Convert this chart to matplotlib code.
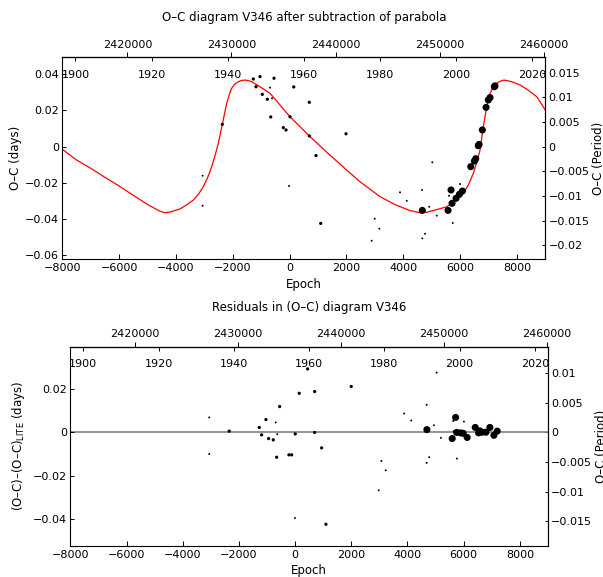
import matplotlib
matplotlib.use("Agg")
import matplotlib.pyplot as plt
from matplotlib.ticker import FuncFormatter
import numpy as np

# ephemeris linking epoch to JD
JD0 = 2435576.0
PERIOD = 2.7272

lite_epoch = [-8000, -7500, -7000, -6500, -6000, -5500, -5000, -4600, -4400, -4200,
              -3856, -3600, -3389, -3200, -3037, -2880, -2741, -2620, -2509, -2368,
              -2213, -2100, -2037, -1920, -1805, -1680, -1569, -1450, -1333, -1041,
              -689, -337, 15, 694, 1419, 2011, 2475, 3183, 3700, 4200,
              4591, 4800, 5100, 5531, 5850, 6115, 6300, 6467, 6600, 6703,
              6819, 6939, 7030, 7115, 7200, 7291, 7420, 7548, 7800, 8111,
              8400, 8699, 9000]
lite_oc = [-0.0015, -0.0074, -0.0120, -0.0170, -0.0218, -0.0270, -0.0320, -0.0355, -0.0366, -0.0362,
           -0.0345, -0.0320, -0.0296, -0.0262, -0.0222, -0.0170, -0.0111, -0.0048, 0.0018, 0.0123,
           0.0240, 0.0298, 0.0323, 0.0347, 0.0359, 0.0366, 0.0368, 0.0365, 0.0359, 0.0331,
           0.0295, 0.0230, 0.0165, 0.0059, -0.0047, -0.0130, -0.0194, -0.0277, -0.0320, -0.0352,
           -0.0366, -0.0364, -0.0352, -0.0333, -0.0300, -0.0259, -0.0210, -0.0148, -0.0080, -0.0019,
           0.0110, 0.0221, 0.0285, 0.0313, 0.0337, 0.0350, 0.0362, 0.0368, 0.0360, 0.0341,
           0.0312, 0.0276, 0.0202]

# O-C after parabola subtraction; weight 1 = tiny dot, 2 = dot, 3 = large dot
oc_epoch = [-3061, -3061, -2368, -1277, -1041, -1182, -960, -784, -689, -548,
            -618, -664, -221, -126, 15, -20, 146, 694, 694, 930,
            1096, 1986, 420, 2888, 2997, 3159, 3887, 4123, 4661, 4672,
            4919, 5024, 5179, 4767, 4672, 5577, 5683, 5612, 6000, 5742,
            5718, 5859, 5976, 6082, 6376, 6503, 6552, 6643, 6670, 6784,
            6915, 6995, 7055, 7206, 7230]
oc_days = [-0.0161, -0.0327, 0.0123, 0.0374, 0.0387, 0.0331, 0.0289, 0.0262, 0.0326, 0.0378,
           0.0267, 0.0164, 0.0105, 0.0092, 0.0165, -0.0218, 0.0330, 0.0245, 0.0059, -0.0050,
           -0.0425, 0.0071, 0.0396, -0.0521, -0.0399, -0.0454, -0.0253, -0.0300, -0.0240, -0.0353,
           -0.0333, -0.0087, -0.0382, -0.0482, -0.0508, -0.0353, -0.0240, -0.0272, -0.0207, -0.0423,
           -0.0314, -0.0286, -0.0264, -0.0246, -0.0111, -0.0080, -0.0067, 0.0005, 0.0012, 0.0092,
           0.0217, 0.0258, 0.0271, 0.0331, 0.0336]
oc_weight = [1, 1, 2, 2, 2, 2, 2, 2, 1, 2,
             1, 2, 2, 2, 2, 1, 2, 2, 2, 2,
             2, 2, 1, 1, 1, 1, 1, 1, 1, 3,
             1, 1, 1, 1, 1, 3, 3, 1, 1, 1,
             3, 3, 3, 3, 3, 3, 3, 3, 3, 3,
             3, 3, 3, 3, 3]

# residuals after LITE subtraction
res_epoch = [-3056, -3056, -2345, -1277, -1039, -693, -1192, -943, -778, -636,
             -551, -658, -220, -124, 4, 146, 446, 695, 695, 944,
             -7, 1097, 1997, 2976, 3072, 3225, 3884, 4133, 4681, 4691,
             4681, 4774, 4941, 5190, 5036, 5592, 5713, 5628, 5652, 5759,
             5748, 5890, 6008, 5983, 6125, 6411, 6532, 6578, 6649, 6791,
             6934, 7076, 7193]
res_days = [0.0068, -0.0100, 0.0005, 0.0022, 0.0058, 0.0045, -0.0012, -0.0029, -0.0035, -0.0009,
            0.0118, -0.0115, -0.0104, -0.0104, -0.0008, 0.0179, 0.0291, 0.0187, -0.0001, -0.0072,
            -0.0394, -0.0423, 0.0210, -0.0267, -0.0132, -0.0175, 0.0086, 0.0054, 0.0126, 0.0012,
            -0.0141, -0.0115, 0.0032, -0.0026, 0.0274, -0.0029, 0.0068, 0.0052, 0.0005, -0.0121,
            -0.0001, -0.0003, 0.0049, -0.0005, -0.0024, 0.0022, -0.0003, 0.0006, 0.0000, 0.0000,
            0.0022, -0.0014, 0.0005]
res_weight = [1, 1, 2, 2, 2, 1, 2, 2, 2, 1,
              2, 2, 2, 2, 2, 2, 2, 2, 2, 2,
              1, 2, 2, 1, 1, 1, 1, 1, 1, 3,
              1, 1, 1, 1, 1, 3, 3, 1, 1, 1,
              3, 3, 1, 3, 3, 3, 3, 3, 3, 3,
              3, 3, 3]

EPOCH_TICKS = [-8000, -6000, -4000, -2000, 0, 2000, 4000, 6000, 8000]
JD_TICKS = [2420000, 2430000, 2440000, 2450000, 2460000]
YEAR_TICKS = [1900, 1920, 1940, 1960, 1980, 2000, 2020]
TOP_DAYS_TICKS = [-0.06, -0.04, -0.02, 0, 0.02, 0.04]
TOP_PERIOD_TICKS = [-0.02, -0.015, -0.01, -0.005, 0, 0.005, 0.01, 0.015]
BOT_DAYS_TICKS = [-0.04, -0.02, 0, 0.02]
BOT_PERIOD_TICKS = [-0.015, -0.01, -0.005, 0, 0.005, 0.01]

DOT_SIZE = {1: 2.0, 2: 5.5, 3: 26.0}
TICK_FS = 8
LABEL_FS = 8.5


def e2jd(e):
    return JD0 + PERIOD * np.asarray(e, dtype=float)


def jd2e(jd):
    return (np.asarray(jd, dtype=float) - JD0) / PERIOD


def e2yr(e):
    return 2000.0 + (e2jd(e) - 2451545.0) / 365.25


def yr2e(y):
    return jd2e(2451545.0 + (np.asarray(y, dtype=float) - 2000.0) * 365.25)


def num_fmt(v, pos):
    v = round(v, 6) + 0.0
    return f"{v:g}".replace("-", "\u2212")


def setup_panel(ax, ylim, days_ticks, period_ticks, ylabel, title, right_x):
    ax.set_xlim(-8000, 9000)
    ax.set_ylim(*ylim)
    ax.set_xticks(EPOCH_TICKS)
    ax.set_yticks(days_ticks)
    ax.yaxis.set_major_formatter(FuncFormatter(num_fmt))
    ax.tick_params(axis="x", direction="in", length=3.6, width=0.7, labelsize=TICK_FS, pad=3)
    ax.tick_params(axis="y", direction="in", length=3.0, width=0.7, labelsize=TICK_FS, pad=2.2)
    for s in ax.spines.values():
        s.set_linewidth(0.8)

    jd = ax.secondary_xaxis("top", functions=(e2jd, jd2e))
    jd.set_xticks(JD_TICKS)
    jd.xaxis.set_major_formatter(FuncFormatter(lambda v, p: f"{v:.0f}"))
    jd.tick_params(direction="out", length=3.3, width=0.7, labelsize=TICK_FS, pad=2)

    yr = ax.secondary_xaxis("top", functions=(e2yr, yr2e))
    yr.set_xticks(YEAR_TICKS)
    yr.tick_params(direction="in", length=3.0, width=0.7, labelsize=TICK_FS, pad=-16)

    per = ax.secondary_yaxis("right", functions=(lambda d: np.asarray(d) / PERIOD,
                                                 lambda p: np.asarray(p) * PERIOD))
    per.set_yticks(period_ticks)
    per.yaxis.set_major_formatter(FuncFormatter(num_fmt))
    per.tick_params(direction="in", length=2.0, width=0.7, labelsize=TICK_FS, pad=2.2)
    per.set_ylabel("O\u2013C (Period)", fontsize=LABEL_FS)
    per.yaxis.set_label_coords(right_x, 0.5, transform=ax.transAxes)

    ax.set_xlabel("Epoch", fontsize=LABEL_FS)
    ax.xaxis.set_label_coords(0.5, -0.092)
    ax.set_ylabel(ylabel, fontsize=LABEL_FS)
    ax.text(0.5, 1.198, title, transform=ax.transAxes, ha="center", va="center",
            fontsize=LABEL_FS)


fig = plt.figure(figsize=(6.03, 5.77), dpi=100)
ax_top = fig.add_axes([0.1033, 0.5511, 0.8010, 0.3496])
ax_bot = fig.add_axes([0.1167, 0.0537, 0.7920, 0.3454])

# upper panel: O-C with LITE fit
ax_top.plot(lite_epoch, lite_oc, color="red", lw=0.9, zorder=2)
ax_top.scatter(oc_epoch, oc_days, s=[DOT_SIZE[w] for w in oc_weight],
               c="black", linewidths=0, zorder=3)
setup_panel(ax_top, (-0.0622, 0.0494), TOP_DAYS_TICKS, TOP_PERIOD_TICKS,
            "O\u2013C (days)", "O\u2013C diagram V346 after subtraction of parabola", 1.097)
ax_top.yaxis.set_label_coords(-0.083, 0.5)

# lower panel: residuals
ax_bot.axhline(0, color="#808080", lw=1.2, zorder=1)
ax_bot.scatter(res_epoch, res_days, s=[DOT_SIZE[w] for w in res_weight],
               c="black", linewidths=0, zorder=3)
setup_panel(ax_bot, (-0.0523, 0.0393), BOT_DAYS_TICKS, BOT_PERIOD_TICKS,
            "(O\u2013C)\u2013(O\u2013C)$_{\\rm LITE}$ (days)",
            "Residuals in (O\u2013C) diagram V346", 1.099)
ax_bot.yaxis.set_label_coords(-0.091, 0.5)

fig.savefig("out.png", dpi=100)
